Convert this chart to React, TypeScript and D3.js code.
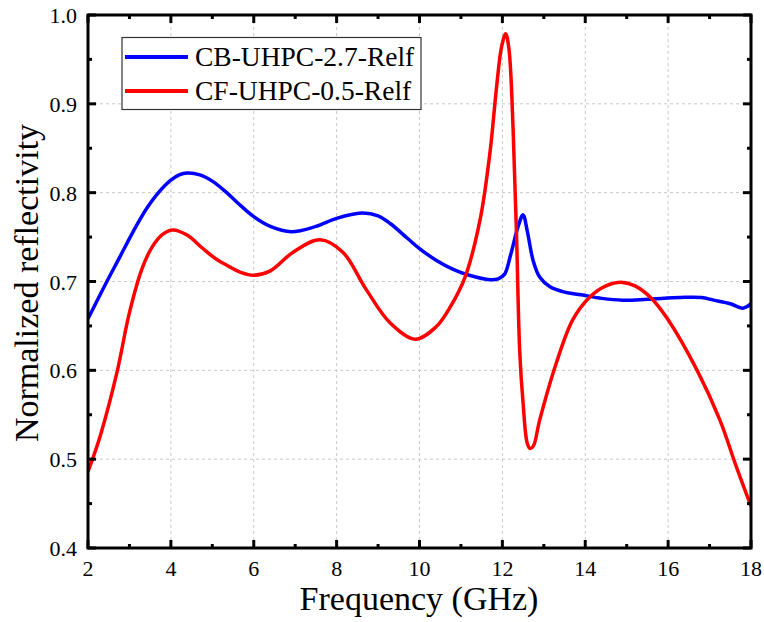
import React from "react";
import * as d3 from "d3";

// CB-UHPC-2.7-Relf (blue)
const cbFreq = [2.0, 2.4, 2.75, 3.1, 3.4, 3.7, 4.0, 4.2, 4.4, 4.7, 5.0, 5.3, 5.6, 6.0, 6.4, 6.9, 7.5, 8.0, 8.6, 9.0, 9.3, 9.7, 10.0, 10.4, 10.8, 11.2, 11.7, 11.9, 12.05, 12.2, 12.38, 12.5, 12.6, 12.74, 12.9, 13.15, 13.5, 13.9, 14.4, 14.9, 15.5, 16.3, 16.8, 17.1, 17.5, 17.8, 18.0];
const cbValues = [0.658, 0.695, 0.726, 0.757, 0.781, 0.8, 0.814, 0.82, 0.822, 0.82, 0.813, 0.802, 0.789, 0.773, 0.762, 0.756, 0.762, 0.771, 0.777, 0.774, 0.765, 0.749, 0.737, 0.724, 0.714, 0.707, 0.702, 0.703, 0.708, 0.73, 0.762, 0.775, 0.757, 0.724, 0.705, 0.694, 0.688, 0.685, 0.681, 0.679, 0.68, 0.682, 0.682, 0.679, 0.675, 0.67, 0.675];

// CF-UHPC-0.5-Relf (red)
const cfFreq = [2.0, 2.3, 2.7, 3.0, 3.3, 3.55, 3.8, 4.05, 4.4, 4.75, 5.1, 5.4, 5.7, 6.0, 6.4, 6.95, 7.6, 8.15, 8.7, 9.3, 9.9, 10.4, 10.75, 11.1, 11.46, 11.7, 11.86, 11.98, 12.08, 12.16, 12.26, 12.34, 12.42, 12.5, 12.6, 12.67, 12.75, 12.9, 13.3, 13.7, 14.1, 14.5, 14.9, 15.2, 15.6, 16.0, 16.7, 17.25, 17.65, 18.0];
const cfValues = [0.486, 0.527, 0.598, 0.665, 0.714, 0.739, 0.753, 0.758, 0.752, 0.738, 0.725, 0.717, 0.71, 0.707, 0.712, 0.733, 0.747, 0.733, 0.692, 0.653, 0.635, 0.649, 0.672, 0.705, 0.769, 0.845, 0.919, 0.964, 0.979, 0.961, 0.87, 0.755, 0.62, 0.563, 0.518, 0.512, 0.515, 0.544, 0.608, 0.657, 0.682, 0.695, 0.699, 0.695, 0.681, 0.657, 0.6, 0.544, 0.491, 0.447];

const xTicks = [2, 4, 6, 8, 10, 12, 14, 16, 18];
const xMinor = [3, 5, 7, 9, 11, 13, 15, 17];
const yTicks = [0.4, 0.5, 0.6, 0.7, 0.8, 0.9, 1.0];
const yMinor = [0.45, 0.55, 0.65, 0.75, 0.85, 0.95];

const seriesNames = ["CB-UHPC-2.7-Relf", "CF-UHPC-0.5-Relf"];
const seriesColors = ["#0000ff", "#ff0000"];

const FONT = "Liberation Serif, DejaVu Serif, serif";

export default function App() {
  const width = 764;
  const height = 622;
  const margin = { top: 15, right: 13, bottom: 74, left: 88 };

  const x = d3.scaleLinear().domain([2, 18]).range([margin.left, width - margin.right]);
  const y = d3.scaleLinear().domain([0.4, 1.0]).range([height - margin.bottom, margin.top]);

  const line = d3
    .line<[number, number]>()
    .x((d) => x(d[0]))
    .y((d) => y(d[1]))
    .curve(d3.curveCatmullRom.alpha(0.5));

  const cbData = cbFreq.map((f, i) => [f, cbValues[i]] as [number, number]);
  const cfData = cfFreq.map((f, i) => [f, cfValues[i]] as [number, number]);

  const x0 = x(2), x1 = x(18), y0 = y(0.4), y1 = y(1.0);
  const major = 8, minor = 4;

  return (
    <svg
      width={width}
      height={height}
      style={{ position: "absolute", left: 0, top: 0, background: "#fff", fontFamily: FONT }}
    >
      {/* grid */}
      <g stroke="#c8c8c8" strokeWidth={1} strokeDasharray="3,3">
        {xTicks.slice(1, -1).map((t) => (
          <line key={"gx" + t} x1={x(t)} x2={x(t)} y1={y1} y2={y0} />
        ))}
        {yTicks.slice(1, -1).map((t) => (
          <line key={"gy" + t} x1={x0} x2={x1} y1={y(t)} y2={y(t)} />
        ))}
      </g>

      {/* curves */}
      <clipPath id="plot">
        <rect x={x0} y={y1 - 2} width={x1 - x0} height={y0 - y1 + 4} />
      </clipPath>
      <g clipPath="url(#plot)" fill="none" strokeWidth={3.5} strokeLinejoin="round">
        <path d={line(cbData) || ""} stroke={seriesColors[0]} />
        <path d={line(cfData) || ""} stroke={seriesColors[1]} />
      </g>

      {/* ticks on all four sides, pointing inward */}
      <g stroke="#000" strokeWidth={3}>
        {xTicks.map((t) => (
          <g key={"tx" + t}>
            <line x1={x(t)} x2={x(t)} y1={y0} y2={y0 - major} />
            <line x1={x(t)} x2={x(t)} y1={y1} y2={y1 + major} />
          </g>
        ))}
        {xMinor.map((t) => (
          <g key={"mx" + t}>
            <line x1={x(t)} x2={x(t)} y1={y0} y2={y0 - minor} />
            <line x1={x(t)} x2={x(t)} y1={y1} y2={y1 + minor} />
          </g>
        ))}
        {yTicks.map((t) => (
          <g key={"ty" + t}>
            <line x1={x0} x2={x0 + major} y1={y(t)} y2={y(t)} />
            <line x1={x1} x2={x1 - major} y1={y(t)} y2={y(t)} />
          </g>
        ))}
        {yMinor.map((t) => (
          <g key={"my" + t}>
            <line x1={x0} x2={x0 + minor} y1={y(t)} y2={y(t)} />
            <line x1={x1} x2={x1 - minor} y1={y(t)} y2={y(t)} />
          </g>
        ))}
      </g>

      {/* frame */}
      <rect x={x0} y={y1} width={x1 - x0} height={y0 - y1} fill="none" stroke="#000" strokeWidth={3} />

      {/* tick labels */}
      <g style={{ fontFamily: FONT, fontSize: 22 }} fill="#000">
        {xTicks.map((t) => (
          <text key={"lx" + t} x={x(t)} y={y0 + 28} textAnchor="middle">
            {t}
          </text>
        ))}
        {yTicks.map((t) => (
          <text key={"ly" + t} x={x0 - 11} y={y(t) + 8} textAnchor="end">
            {t.toFixed(1)}
          </text>
        ))}
      </g>

      {/* axis titles */}
      <text x={419} y={610} textAnchor="middle" style={{ fontFamily: FONT, fontSize: 34 }}>
        Frequency (GHz)
      </text>
      <text
        transform={`translate(38, 283) rotate(-90)`}
        textAnchor="middle"
        style={{ fontFamily: FONT, fontSize: 34 }}
      >
        Normalized reflectivity
      </text>

      {/* legend */}
      <g>
        <rect x={122} y={37.5} width={299} height={72} fill="#fff" stroke="#333" strokeWidth={1.2} />
        {seriesNames.map((name, i) => (
          <g key={name} transform={`translate(0, ${57 + i * 34})`}>
            <line x1={125} x2={188} y1={0} y2={0} stroke={seriesColors[i]} strokeWidth={4} />
            <text x={195} y={9} style={{ fontFamily: FONT, fontSize: 27.5 }} fill="#000">
              {name}
            </text>
          </g>
        ))}
      </g>
    </svg>
  );
}
